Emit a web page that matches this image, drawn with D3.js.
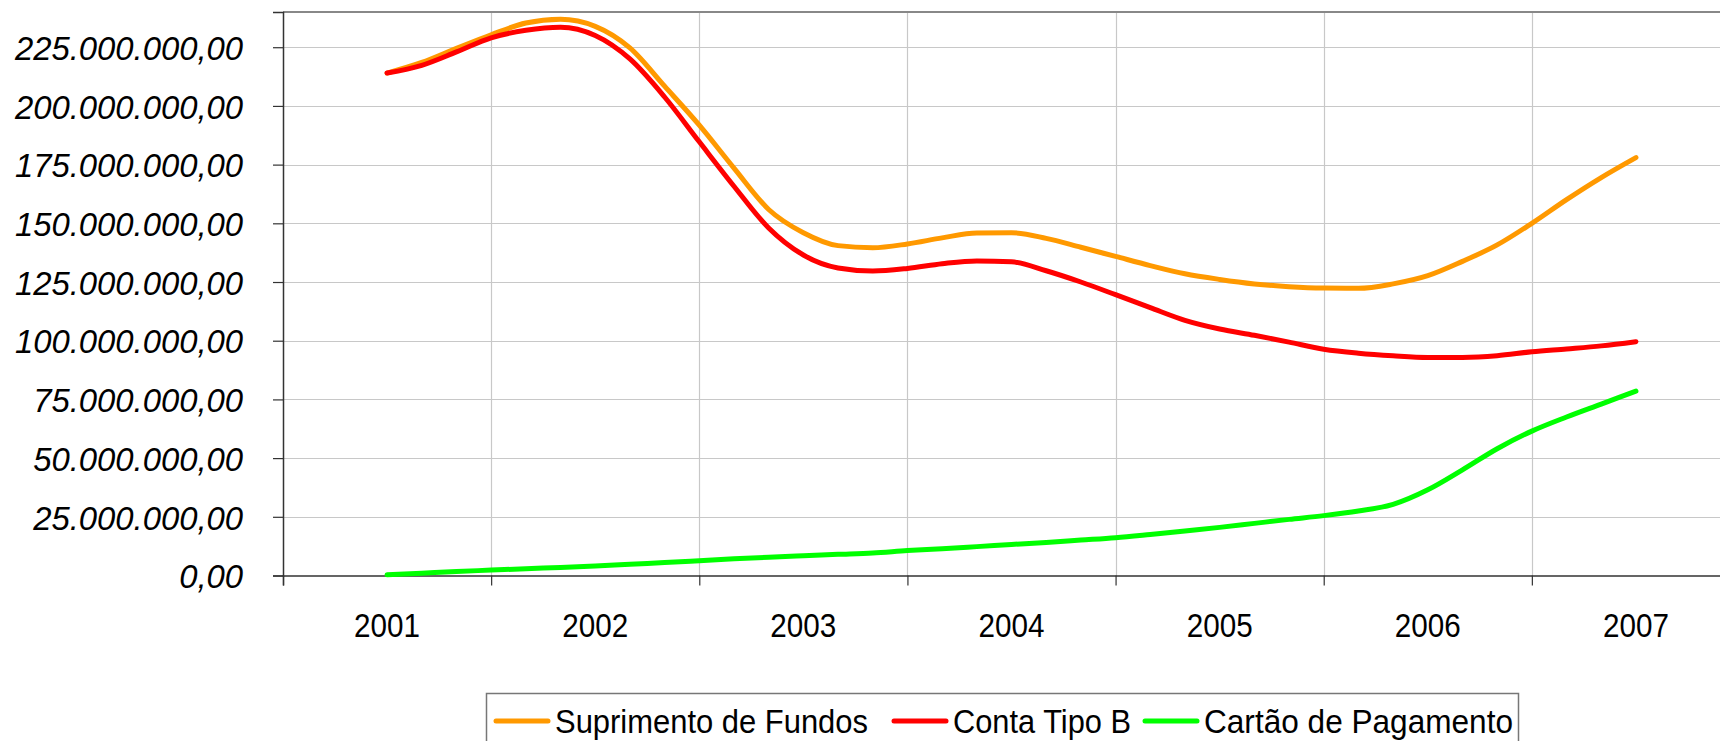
<!DOCTYPE html>
<html>
<head>
<meta charset="utf-8">
<script src="https://cdn.jsdelivr.net/npm/d3@7"></script>
<style>
  html, body { margin: 0; padding: 0; background: #fff; }
  svg { display: block; }
  text { font-family: "Liberation Sans", Arial, sans-serif; fill: #000; }
</style>
</head>
<body>
<svg id="chart" width="1720" height="741"></svg>
<script>
// ---------- DATA ----------
const years = ["2001", "2002", "2003", "2004", "2005", "2006", "2007"];
const periods = [
  "2001-01","2001-03","2001-05","2001-07","2001-09","2001-11",
  "2002-01","2002-03","2002-05","2002-07","2002-09","2002-11",
  "2003-01","2003-03","2003-05","2003-07","2003-09","2003-11",
  "2004-01","2004-03","2004-05","2004-07","2004-09","2004-11",
  "2005-01","2005-03","2005-05","2005-07","2005-09","2005-11",
  "2006-01","2006-03","2006-05","2006-07","2006-09","2006-11",
  "2007-01"
];
// values in millions of R$
const suprimentoDeFundos = [
  214.0, 218.5, 224.5, 230.3, 235.3, 236.9,
  233.9, 224.7, 208.4, 191.8, 173.5, 155.9,
  146.0, 140.5, 139.6, 141.2, 143.8, 145.9,
  146.0, 143.6, 139.8, 135.9, 132.0, 128.5,
  126.1, 124.2, 123.0, 122.4, 122.3, 124.2,
  127.7, 133.8, 140.8, 150.0, 160.1, 169.5,
  178.0
];
const contaTipoB = [
  214.0, 217.3, 223.0, 229.0, 232.2, 233.5,
  230.0, 220.0, 203.8, 184.7, 165.8, 148.0,
  136.5, 131.0, 129.7, 130.8, 132.8, 134.0,
  133.6, 129.8, 125.0, 119.6, 114.1, 108.7,
  105.0, 102.3, 99.4, 96.4, 94.7, 93.6,
  92.9, 92.9, 93.6, 95.3, 96.5, 97.8,
  99.6
];
const cartaoDePagamento = [
  0.3, 1.0, 1.7, 2.3, 2.9, 3.4,
  4.0, 4.8, 5.5, 6.3, 7.1, 7.8,
  8.4, 9.0, 9.6, 10.6, 11.4, 12.3,
  13.2, 14.1, 15.1, 16.1, 17.5, 19.0,
  20.5, 22.2, 23.9, 25.5, 27.5, 30.3,
  36.5, 45.0, 54.0, 61.5, 67.5, 73.0,
  78.5
];
const seriesNames = ["Suprimento de Fundos", "Conta Tipo B", "Cartão de Pagamento"];
const seriesColors = ["#FF9900", "#FF0000", "#00FF00"];
const yTickValues = [0, 25e6, 50e6, 75e6, 100e6, 125e6, 150e6, 175e6, 200e6, 225e6];

// ---------- LAYOUT ----------
const svg = d3.select("#chart");
const plotL = 283, plotR = 1740, plotT = 12, plotB = 575.5;
const FS = 34;

const toYear = p => { const [yy, mm] = p.split("-").map(Number); return yy + (mm - 1) / 12; };
const x = d3.scaleLinear().domain([+years[0] - 0.5, +years[years.length - 1] + 0.5]).range([plotL, plotR]);
const y = d3.scaleLinear().domain([0, 240e6]).range([plotB, plotT]);

const locale = d3.formatLocale({ decimal: ",", thousands: ".", grouping: [3], currency: ["R$ ", ""] });
const fmt = locale.format(",.2f");

// gridlines
const grid = svg.append("g");
grid.selectAll("line.h").data(yTickValues.filter(v => v > 0)).join("line")
  .attr("x1", plotL).attr("x2", plotR)
  .attr("y1", d => Math.round(y(d)) + 0.5).attr("y2", d => Math.round(y(d)) + 0.5)
  .attr("stroke", "#c8c8c8").attr("stroke-width", 1.2);
const boundaries = years.map(yv => +yv + 0.5);
grid.selectAll("line.v").data(boundaries).join("line")
  .attr("x1", d => Math.round(x(d)) + 0.5).attr("x2", d => Math.round(x(d)) + 0.5)
  .attr("y1", plotT).attr("y2", plotB)
  .attr("stroke", "#c8c8c8").attr("stroke-width", 1.2);

// top border
svg.append("line").attr("x1", plotL).attr("x2", plotR).attr("y1", plotT).attr("y2", plotT)
  .attr("stroke", "#888").attr("stroke-width", 2);

// y axis
const yAxis = svg.append("g").attr("transform", `translate(${plotL},0)`)
  .call(d3.axisLeft(y).tickValues(yTickValues).tickSize(10).tickPadding(30).tickFormat(fmt));
yAxis.select(".domain").attr("stroke", "#333").attr("stroke-width", 1.5);
yAxis.selectAll(".tick line").attr("stroke", "#333").attr("stroke-width", 1.2);
yAxis.selectAll(".tick text")
  .attr("font-family", "Liberation Sans, Arial, sans-serif")
  .attr("font-size", FS).attr("font-style", "italic").attr("fill", "#000")
  .attr("dy", "0.36em");

// x axis
const xAxis = svg.append("g").attr("transform", `translate(0,${plotB})`)
  .call(d3.axisBottom(x).tickValues([+years[0] - 0.5, ...boundaries]).tickSize(10).tickFormat(""));
xAxis.select(".domain").attr("stroke", "#333").attr("stroke-width", 1.5);
xAxis.selectAll(".tick line").attr("stroke", "#333").attr("stroke-width", 1.2);

const xLabels = svg.append("g").selectAll("text").data(years).join("text")
  .attr("x", d => x(+d)).attr("y", 625).attr("dy", "0.36em")
  .attr("text-anchor", "middle").attr("font-size", FS)
  .text(d => d);

// scale text widths to the reference's condensed look
function squeeze(sel, refText, targetW) {
  let refW = null;
  sel.each(function () { if (this.textContent === refText) refW = this.getComputedTextLength(); });
  const f = targetW / refW;
  sel.each(function () {
    const w = this.getComputedTextLength();
    d3.select(this).attr("textLength", w * f).attr("lengthAdjust", "spacingAndGlyphs");
  });
}
squeeze(yAxis.selectAll(".tick text"), fmt(225e6), 228);
squeeze(xLabels, "2001", 66);

// lines
const allSeries = [suprimentoDeFundos, contaTipoB, cartaoDePagamento];
const line = d3.line()
  .x((d, i) => x(toYear(periods[i])))
  .y(d => y(d * 1e6))
  .curve(d3.curveMonotoneX);
svg.append("g").selectAll("path").data(allSeries).join("path")
  .attr("d", d => line(d))
  .attr("fill", "none")
  .attr("stroke", (d, i) => seriesColors[i])
  .attr("stroke-width", 5)
  .attr("stroke-linecap", "round")
  .attr("stroke-linejoin", "round");

// legend
const lg = svg.append("g");
lg.append("rect").attr("x", 486.5).attr("y", 693.5).attr("width", 1032).attr("height", 80)
  .attr("fill", "#fff").attr("stroke", "#777").attr("stroke-width", 1.5);
const legendX = [496, 894, 1145];
const legendW = [313, 178, 309];
seriesNames.forEach((name, i) => {
  lg.append("line").attr("x1", legendX[i]).attr("x2", legendX[i] + 52)
    .attr("y1", 721).attr("y2", 721)
    .attr("stroke", seriesColors[i]).attr("stroke-width", 5).attr("stroke-linecap", "round");
  const t = lg.append("text").attr("x", legendX[i] + 59).attr("y", 721).attr("dy", "0.36em")
    .attr("font-size", FS).text(name);
  t.attr("textLength", legendW[i]).attr("lengthAdjust", "spacingAndGlyphs");
});
</script>
</body>
</html>
